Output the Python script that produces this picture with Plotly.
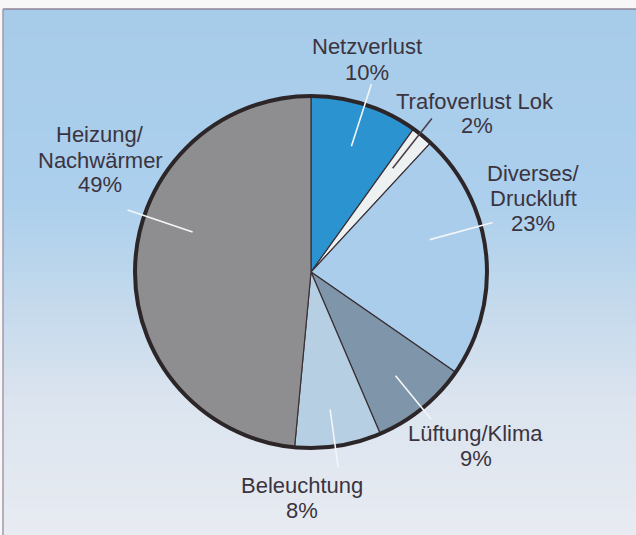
import math
import plotly.graph_objects as go

# ---- data ----
categories = ["Netzverlust", "Trafoverlust Lok", "Diverses/<br>Druckluft",
              "Lüftung/Klima", "Beleuchtung", "Heizung/<br>Nachwärmer"]
shares = [10, 2, 23, 9, 8, 49]

# ---- styling ----
W, H = 636, 535
slice_colors = ["#2b93cf", "#eef1f2", "#a9cdeb", "#7e95aa", "#b6cfe3", "#8e8e90"]
CX, CY, R = 311, 272, 176          # pie centre / radius in pixels
text_color = "#3b3440"
font_family = "Liberation Sans, Arial, Helvetica, sans-serif"
FS = 22
LINE_H = 25
# leader-line styling: (angle offset deg, inner radius frac, outer radius frac, colour)
leader_style = [(0, 0.75, 1.12, "#f3f6f9"), (-1, 0.75, 1.11, "#4a4048"),
                (-9, 0.70, 1.07, "#f3f6f9"), (0, 0.76, 1.08, "#f3f6f9"),
                (1, 0.79, 1.12, "#f3f6f9"), (16, 0.71, 1.10, "#f3f6f9")]
# label placement (pixel centre x of name lines, x of percent line, y of first line)
label_pos = [(367, 367, 47), (475, 477, 101), (533, 533, 173),
             (476, 476, 433), (302, 302, 485), (100, 100, 135)]


def px(x):
    return x / W


def py(y):
    return 1 - y / H


fig = go.Figure()

fig.add_trace(go.Pie(
    values=shares, labels=[c.replace("<br>", "") for c in categories],
    sort=False, direction="clockwise", rotation=0,
    marker=dict(colors=slice_colors, line=dict(color="#3a3036", width=1.2)),
    textinfo="none", hoverinfo="label+value", showlegend=False,
    domain=dict(x=[px(CX - R), px(CX + R)], y=[py(CY + R), py(CY - R)]),
))
# thick outer rim
fig.add_trace(go.Pie(
    values=[sum(shares)], labels=["total"], sort=False,
    marker=dict(colors=["rgba(0,0,0,0)"], line=dict(color="#2d2629", width=4)),
    textinfo="none", hoverinfo="skip", showlegend=False,
    domain=dict(x=[px(CX - R), px(CX + R)], y=[py(CY + R), py(CY - R)]),
))

shapes = []
# background gradient (blue top -> pale bottom)
stops = [(9, (167, 204, 233)), (200, (171, 207, 236)), (300, (195, 217, 236)),
         (400, (219, 228, 239)), (535, (232, 235, 241))]


def col_at(y):
    for (y0, c0), (y1, c1) in zip(stops[:-1], stops[1:]):
        if y0 <= y <= y1:
            t = (y - y0) / (y1 - y0)
            return "rgb(%d,%d,%d)" % tuple(round(a + (b - a) * t) for a, b in zip(c0, c1))
    return "rgb(%d,%d,%d)" % stops[-1][1]


nb = 60
top = 9
for i in range(nb):
    y0 = top + (H - top) * i / nb
    y1 = top + (H - top) * (i + 1) / nb + 1
    shapes.append(dict(type="rect", xref="paper", yref="paper", layer="below",
                       x0=px(3), x1=1.01, y0=py(y1), y1=py(y0),
                       fillcolor=col_at((y0 + y1) / 2), line=dict(width=0)))
# frame
shapes.append(dict(type="line", xref="paper", yref="paper", layer="below",
                   x0=px(3), x1=1.01, y0=py(9), y1=py(9),
                   line=dict(color="#8f8594", width=1.5)))
shapes.append(dict(type="line", xref="paper", yref="paper", layer="below",
                   x0=px(3), x1=px(3), y0=py(9), y1=-0.01,
                   line=dict(color="#a399a8", width=1.5)))

# leader lines at slice mid-angles
total = sum(shares)
cum = 0
annotations = []
for i, v in enumerate(shares):
    mid = (cum + v / 2) / total * 360
    cum += v
    off, r0, r1, lc = leader_style[i]
    a = math.radians(mid + off)
    x0, y0 = CX + r0 * R * math.sin(a), CY - r0 * R * math.cos(a)
    x1, y1 = CX + r1 * R * math.sin(a), CY - r1 * R * math.cos(a)
    shapes.append(dict(type="line", xref="paper", yref="paper", layer="above",
                       x0=px(x0), y0=py(y0), x1=px(x1), y1=py(y1),
                       line=dict(color=lc, width=1.6)))
    # labels
    xn, xp, yt = label_pos[i]
    lines = categories[i].split("<br>")
    for k, t in enumerate(lines):
        annotations.append(dict(text=t, x=px(xn), y=py(yt + k * LINE_H),
                                xref="paper", yref="paper", showarrow=False,
                                xanchor="center", yanchor="middle",
                                font=dict(size=FS, color=text_color, family=font_family)))
    annotations.append(dict(text=f"{v}%", x=px(xp), y=py(yt + len(lines) * LINE_H),
                            xref="paper", yref="paper", showarrow=False,
                            xanchor="center", yanchor="middle",
                            font=dict(size=FS, color=text_color, family=font_family)))

fig.update_layout(
    width=W, height=H, margin=dict(l=0, r=0, t=0, b=0),
    paper_bgcolor="#f7f7f8", plot_bgcolor="rgba(0,0,0,0)",
    shapes=shapes, annotations=annotations, showlegend=False,
)

fig.write_html("out.html", config={"displayModeBar": False},
               post_script="document.body.style.margin='0';document.body.style.padding='0';"
                           "document.body.style.overflow='hidden';")
